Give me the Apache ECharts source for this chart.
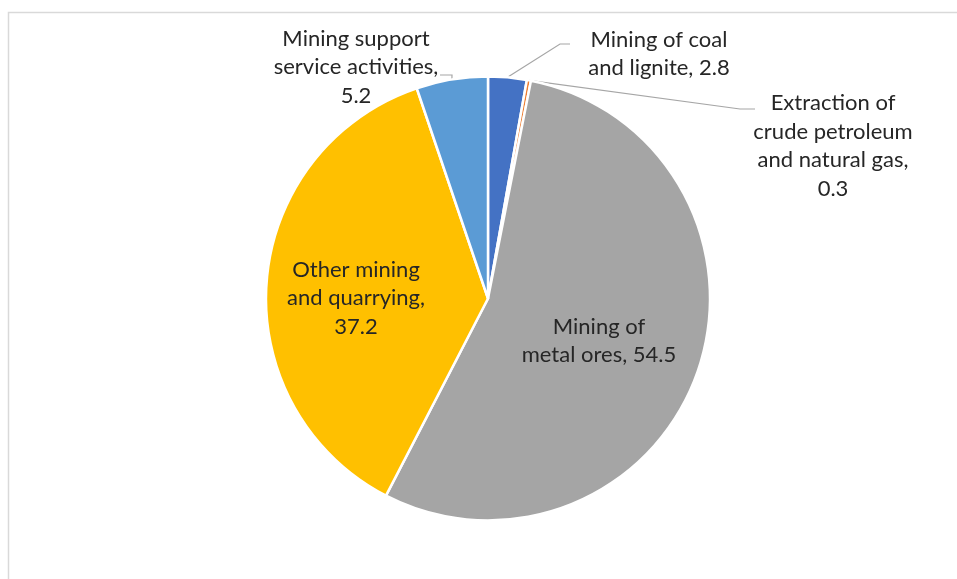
<!DOCTYPE html>
<html>
<head>
<meta charset="utf-8">
<script src="https://cdn.jsdelivr.net/npm/echarts@6/dist/echarts.min.js"></script>
<style>html,body{margin:0;padding:0;background:#fff}#c{width:957px;height:579px}</style>
</head>
<body>
<div id="c"></div>
<script>
// Data
const categories = [
  'Mining of coal\nand lignite',
  'Extraction of\ncrude petroleum\nand natural gas',
  'Mining of\nmetal ores',
  'Other mining\nand quarrying',
  'Mining support\nservice activities'
];
const values = [2.8, 0.3, 54.5, 37.2, 5.2];
const separators = [', ', ',\n', ', ', ',\n', ',\n'];
const colors = ['#4472C4', '#ED7D31', '#A5A5A5', '#FFC000', '#5B9BD5'];
const insideLabel = [false, false, true, true, false];

// Label layout (pixel anchors of label blocks, and leader-line bends)
const labelPos = [
  {x: 659, y: 54, bend: [560, 44], end: [570, 44]},
  {x: 833, y: 146, bend: [740, 109], end: [755, 109]},
  {x: 599, y: 341},
  {x: 356, y: 298},
  {x: 356, y: 67, bend: [452, 75], end: [440, 75]}
];

const chart = echarts.init(document.getElementById('c'));
const data = categories.map((n, i) => ({
  name: n,
  value: values[i],
  itemStyle: {color: colors[i]},
  label: insideLabel[i] ? {position: 'inside'} : {position: 'outside'},
  labelLine: {show: !insideLabel[i]}
}));

chart.setOption({
  animation: false,
  graphic: [{
    type: 'rect', z: -10,
    shape: {x: 8.5, y: 12.5, width: 1200, height: 800},
    style: {fill: '#fff', stroke: '#d9d9d9', lineWidth: 1.5}
  }],
  series: [{
    type: 'pie',
    center: [488, 298.5],
    radius: 222,
    startAngle: 90,
    clockwise: true,
    avoidLabelOverlap: false,
    itemStyle: {borderColor: '#fff', borderWidth: 2.5},
    label: {
      show: true,
      color: '#262626',
      fontFamily: 'Lato',
      fontSize: 22,
      lineHeight: 28.5,
      align: 'center',
      formatter: p => p.name + separators[p.dataIndex] + p.value
    },
    labelLine: {show: true, lineStyle: {color: '#a6a6a6', width: 1.2}},
    labelLayout: function (p) {
      const lp = labelPos[p.dataIndex];
      const res = {x: lp.x, y: lp.y, align: 'center', verticalAlign: 'middle'};
      if (lp.bend && p.labelLinePoints) {
        res.labelLinePoints = [p.labelLinePoints[0], lp.bend, lp.end];
      }
      return res;
    },
    data: data
  }]
});
</script>
</body>
</html>
